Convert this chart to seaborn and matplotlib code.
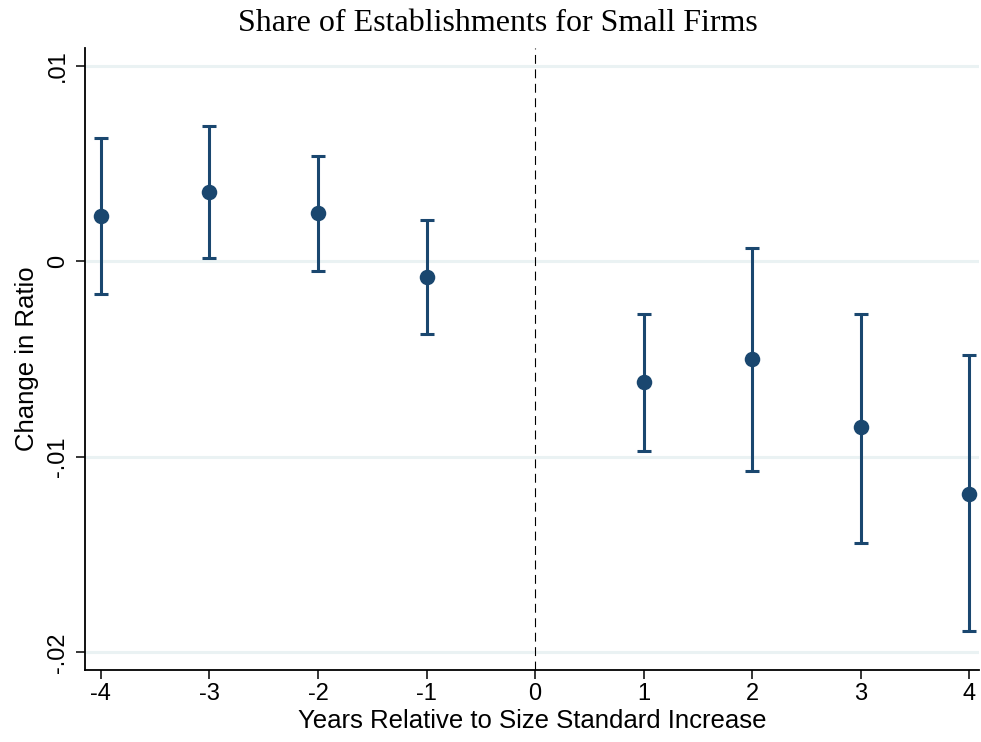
import numpy as np
import pandas as pd
import matplotlib
matplotlib.use("Agg")
import matplotlib.pyplot as plt
import seaborn as sns

# event-study estimates
years = [-4, -3, -2, -1, 1, 2, 3, 4]
coef = [0.0023, 0.00353, 0.00245, -0.0008, -0.0062, -0.0050, -0.0085, -0.0119]
ci_low = [-0.0017, 0.00015, -0.0005, -0.0037, -0.0097, -0.0107, -0.0144, -0.0189]
ci_high = [0.0063, 0.0069, 0.0054, 0.0021, -0.0027, 0.0007, -0.0027, -0.0048]

xticks = [-4, -3, -2, -1, 0, 1, 2, 3, 4]
yticks = [0.01, 0, -0.01, -0.02]
ytick_labels = [".01", "0", "-.01", "-.02"]

df = pd.DataFrame({"year": years, "coef": coef, "lo": ci_low, "hi": ci_high})

navy = "#1a476f"
sns.set_style("white")
plt.rcParams["font.family"] = ["Liberation Sans", "DejaVu Sans"]
plt.rcParams["text.color"] = "black"
plt.rcParams["axes.labelcolor"] = "black"
plt.rcParams["xtick.color"] = "black"
plt.rcParams["ytick.color"] = "black"

fig = plt.figure(figsize=(9.81, 7.42), dpi=100)
ax = fig.add_axes([0.0866, 0.097, 0.9114, 0.8383])

# light Stata-style grid
for yv in yticks:
    ax.axhline(yv, color="#eaf2f3", lw=2.2, zorder=0)
ax.axvline(0, color="black", lw=0.8, ls=(0, (8, 5)), zorder=1)

ax.errorbar(df["year"], df["coef"],
            yerr=[df["coef"] - df["lo"], df["hi"] - df["coef"]],
            fmt="none", ecolor=navy, elinewidth=2.2, capsize=5, capthick=2.2, zorder=2)
sns.scatterplot(data=df, x="year", y="coef", ax=ax, color=navy, s=125,
                edgecolor=navy, linewidth=0, zorder=3, legend=False)

ax.set_xlim(-4.147, 4.09)
ax.set_ylim(-0.0209, 0.0109)
ax.set_xticks(xticks)
ax.set_xticklabels([str(t) for t in xticks], fontsize=17)
ax.set_yticks(yticks)
ax.set_yticklabels(ytick_labels, fontsize=17, rotation=90, va="center")
ax.tick_params(axis="both", direction="out", length=6.5, width=1.1, color="black",
               left=True, bottom=True, pad=3)
ax.tick_params(axis="y", pad=5)

for s in ["top", "right"]:
    ax.spines[s].set_visible(False)
for s in ["left", "bottom"]:
    ax.spines[s].set_color("black")
    ax.spines[s].set_linewidth(1.3)

ax.set_xlabel("Years Relative to Size Standard Increase", fontsize=18.5, labelpad=3)
ax.set_ylabel("Change in Ratio", fontsize=18.5, labelpad=6)
fig.suptitle("Share of Establishments for Small Firms", x=0.508, y=0.988,
             fontsize=23, family=["Liberation Serif", "DejaVu Serif"])

fig.savefig("out.png", dpi=100)
